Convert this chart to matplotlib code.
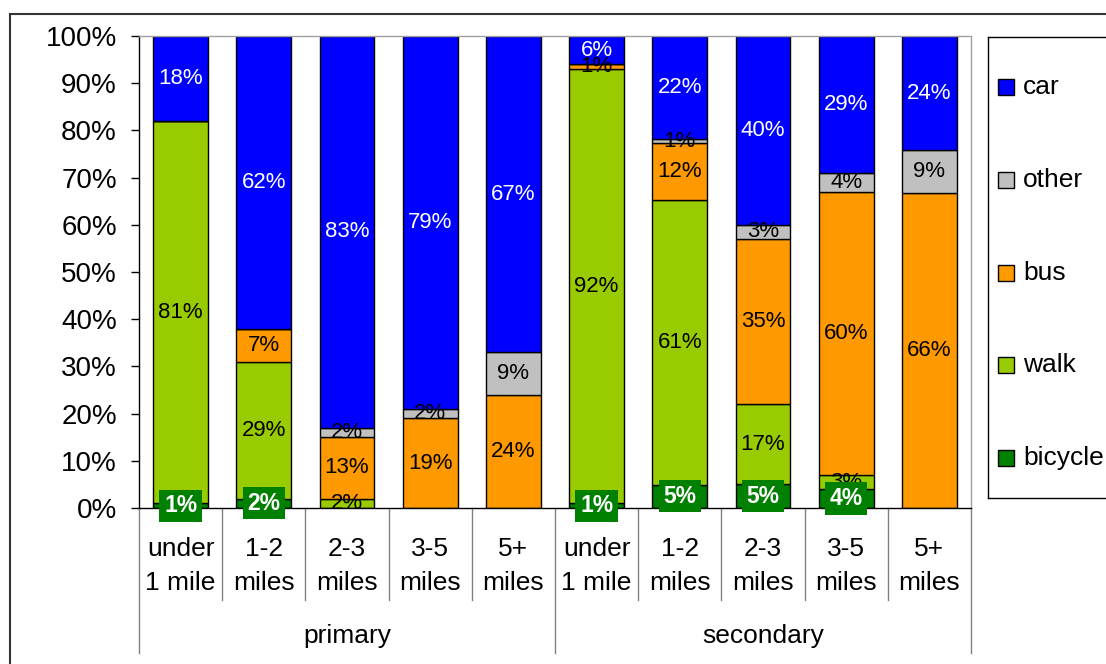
import matplotlib
matplotlib.use("Agg")
import matplotlib.pyplot as plt
from matplotlib.patches import Rectangle
import numpy as np

plt.rcParams['font.family'] = ['Liberation Sans', 'DejaVu Sans']

# travel mode share by distance band, primary vs secondary pupils (%)
distances = ["under\n1 mile", "1-2\nmiles", "2-3\nmiles", "3-5\nmiles", "5+\nmiles"] * 2
groups = ["primary", "secondary"]

bicycle = [1, 2, 0, 0, 0, 1, 5, 5, 4, 0]
walk = [81, 29, 2, 0, 0, 92, 61, 17, 3, 0]
bus = [0, 7, 13, 19, 24, 1, 12, 35, 60, 66]
other = [0, 0, 2, 2, 9, 0, 1, 3, 4, 9]
car = [18, 62, 83, 79, 67, 6, 22, 40, 29, 24]

modes = ["bicycle", "walk", "bus", "other", "car"]
colours = {"bicycle": "#008000", "walk": "#99CC00", "bus": "#FF9900",
           "other": "#C0C0C0", "car": "#0000FF"}

data = np.array([bicycle, walk, bus, other, car], dtype=float)
shares = data / data.sum(axis=0) * 100   # 100% stacked

W, H = 1106, 664
fig = plt.figure(figsize=(W / 100, H / 100), dpi=100)
ax = fig.add_axes([139 / W, 1 - 508 / H, (971 - 139) / W, (508 - 36) / H])

x = np.arange(len(distances))
bottom = np.zeros(len(x))
for k, mode in enumerate(modes):
    ax.bar(x, shares[k], 0.66, bottom=bottom, color=colours[mode],
           edgecolor="black", linewidth=1.0, zorder=2)
    for i in x:
        if data[k, i] == 0:
            continue
        yc = bottom[i] + shares[k, i] / 2
        lab = f"{data[k, i]:.0f}%"
        if mode == "bicycle":
            ax.text(i, yc, lab, ha="center", va="center", color="white",
                    fontsize=16.5, fontweight="bold", zorder=5, clip_on=False,
                    bbox=dict(boxstyle="square,pad=0.2", fc="#008000", ec="none"))
        else:
            ax.text(i, yc, lab, ha="center", va="center", fontsize=16,
                    color="white" if mode == "car" else "black", zorder=4)
    bottom += shares[k]

ax.set_xlim(-0.5, len(x) - 0.5)
ax.set_ylim(0, 100)
ax.set_yticks(np.arange(0, 101, 10))
ax.set_yticklabels([f"{v}%" for v in range(0, 101, 10)], fontsize=20)
ax.tick_params(axis="y", length=6, width=1, pad=10)
ax.set_xticks([])
for s in ["left", "bottom"]:
    ax.spines[s].set_color("black")
    ax.spines[s].set_linewidth(1)
for s in ["top", "right"]:
    ax.spines[s].set_color("#A0A0A0")
    ax.spines[s].set_linewidth(1)

# two-level category axis
trans = ax.get_xaxis_transform()
for i, name in enumerate(distances):
    l1, l2 = name.split("\n")
    ax.text(i, -0.087, l1, transform=trans, ha="center", va="center", fontsize=19)
    ax.text(i, -0.159, l2, transform=trans, ha="center", va="center", fontsize=19)
for j, g in enumerate(groups):
    ax.text(2 + 5 * j, -0.271, g, transform=trans, ha="center", va="center", fontsize=19)
for b in np.arange(-0.5, len(x), 1):
    y_end = -0.307 if b in (-0.5, 4.5, 9.5) else -0.195
    ax.plot([b, b], [0, y_end], transform=trans, color="#808080", lw=1, clip_on=False)

# legend panel
lax = fig.add_axes([988 / W, 1 - 498 / H, 140 / W, (498 - 37) / H])
lax.set_xlim(0, 140)
lax.set_ylim(0, 461)
lax.set_xticks([])
lax.set_yticks([])
for s in lax.spines.values():
    s.set_color("black")
    s.set_linewidth(1)
for i, mode in enumerate(modes[::-1]):
    yc = 461 - (50 + i * 92.75)
    lax.add_patch(Rectangle((10, yc - 8), 16, 16, fc=colours[mode], ec="black", lw=1))
    lax.text(35, yc, mode, ha="left", va="center", fontsize=19)

# chart area border
fig.add_artist(Rectangle((10 / W, -0.1), 1.2, 1 - 14 / H + 0.1,
                         transform=fig.transFigure, fill=False, ec="#333333", lw=1.5))

fig.savefig("out.png", dpi=100)
